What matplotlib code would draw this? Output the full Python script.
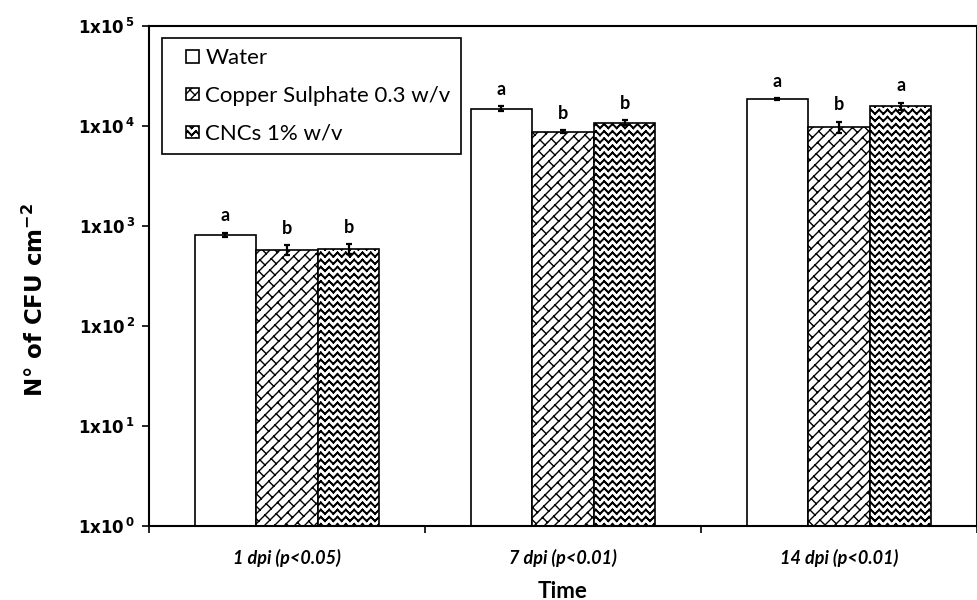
import numpy as np
import matplotlib
matplotlib.use('Agg')
import matplotlib.pyplot as plt
import matplotlib.hatch as mhatch
from matplotlib.path import Path
from matplotlib.patches import Rectangle
from matplotlib.container import BarContainer
from matplotlib.legend_handler import HandlerPatch, update_from_first_child
from matplotlib.ticker import NullLocator

# ---------------- data ----------------
categories = ['1 dpi (p<0.05)', '7 dpi (p<0.01)', '14 dpi (p<0.01)']
series_names = ['Water', 'Copper Sulphate 0.3 w/v', 'CNCs 1% w/v']
water = [811, 14900, 18500]
copper = [579, 8760, 9770]
cncs = [593, 10770, 15740]
water_err = [45, 900, 430]
copper_err = [63, 300, 1300]
cncs_err = [65, 600, 1350]
water_letters = ['a', 'a', 'a']
copper_letters = ['b', 'b', 'b']
cncs_letters = ['b', 'b', 'a']
ytick_exponents = [0, 1, 2, 3, 4, 5]


# ---------------- custom hatches (brick and zigzag) ----------------
def _brick_segments(n=10, m=4):
    segs = []
    for k in range(-n - 1, n + 2):
        c0 = k / n
        c1 = (k + 1) / n
        s0, s1 = -1.2, 3.2
        segs.append((((s0 + c0) / 2, (s0 - c0) / 2), ((s1 + c0) / 2, (s1 - c0) / 2)))
        off = (k % 2) / (2 * m)
        for j in range(-2 * m, 4 * m):
            s = j / m + off
            p0 = ((s + c0) / 2, (s - c0) / 2)
            p1 = ((s + c1) / 2, (s - c1) / 2)
            mx, my = (p0[0] + p1[0]) / 2, (p0[1] + p1[1]) / 2
            if -0.2 <= mx <= 1.2 and -0.2 <= my <= 1.2:
                segs.append((p0, p1))
    return segs


def _zigzag_segments(r=14, q=12, thick=(0.0, 0.008)):
    segs = []
    a = 1 / (2 * q)
    for k in range(-1, r + 2):
        for d in thick:
            y0 = k / r + d
            for i in range(-2, 2 * q + 2):
                x0 = i / (2 * q)
                x1 = (i + 1) / (2 * q)
                ya = y0 + (i % 2) * a
                yb = y0 + ((i + 1) % 2) * a
                segs.append(((x0, ya), (x1, yb)))
    return segs


class _SegHatch:
    key = None
    builder = None

    def __init__(self, hatch, density):
        if hatch and self.key in hatch:
            self.segs = np.array(type(self).builder(), float)
        else:
            self.segs = np.zeros((0, 2, 2))
        self.num_vertices = len(self.segs) * 2

    def set_vertices_and_codes(self, vertices, codes):
        vertices[0::2] = self.segs[:, 0]
        vertices[1::2] = self.segs[:, 1]
        codes[0::2] = Path.MOVETO
        codes[1::2] = Path.LINETO


class BrickHatch(_SegHatch):
    key = '/'
    builder = staticmethod(_brick_segments)


class ZigzagHatch(_SegHatch):
    key = '\\'
    builder = staticmethod(_zigzag_segments)


if hasattr(mhatch, '_hatch_types'):
    mhatch._hatch_types[:] = [BrickHatch, ZigzagHatch]

# ---------------- style ----------------
plt.rcParams['hatch.linewidth'] = 1.0
plt.rcParams['mathtext.fontset'] = 'custom'
plt.rcParams['mathtext.rm'] = 'DejaVu Sans'
plt.rcParams['mathtext.it'] = 'DejaVu Sans:italic'
plt.rcParams['mathtext.bf'] = 'DejaVu Sans:bold'
plt.rcParams['font.family'] = ['DejaVu Sans']

fig = plt.figure(figsize=(9.78, 6.0), dpi=100)
ax = fig.add_axes([0.1524, 0.1238, 0.8466, 0.8328])
ax.set_yscale('log')

x = np.arange(len(categories))
w = 0.223
specs = [
    (water, water_err, water_letters, '', series_names[0]),
    (copper, copper_err, copper_letters, '/', series_names[1]),
    (cncs, cncs_err, cncs_letters, '\\', series_names[2]),
]
for i, (vals, errs, letters, hatch, name) in enumerate(specs):
    pos = x + (i - 1) * w
    ax.bar(pos, vals, width=w, color='white', edgecolor='black', linewidth=1.2,
           hatch=hatch, label=name, zorder=2)
    ax.errorbar(pos, vals, yerr=errs, fmt='none', ecolor='black', elinewidth=1.6,
                capsize=2.5, capthick=1.6, zorder=3)
    for p, v, e, l in zip(pos, vals, errs, letters):
        ax.annotate(l, (p, v + e), xytext=(0, 6), textcoords='offset points',
                    ha='center', va='bottom', fontsize=13, fontweight='bold',
                    family='Lato')

ax.set_ylim(1, 1e5)
ax.set_xlim(-0.5, 2.5)

ax.set_yticks([10.0 ** k for k in ytick_exponents])
ax.set_yticklabels([r'$\mathbf{1x10}^{\,\mathbf{%d}}$' % k for k in ytick_exponents])
ax.yaxis.set_minor_locator(NullLocator())
ax.tick_params(axis='y', which='major', direction='out', length=5, width=1.2,
               pad=5, labelsize=12)

ax.set_xticks([-0.5, 0.5, 1.5, 2.5])
ax.set_xticklabels([])
ax.set_xticks(x, minor=True)
ax.set_xticklabels(categories, minor=True, fontstyle='italic', fontweight='bold',
                   family='Lato', fontsize=13)
ax.tick_params(axis='x', which='major', direction='out', length=5, width=1.2)
ax.tick_params(axis='x', which='minor', length=0, pad=17)

for sp in ax.spines.values():
    sp.set_linewidth(1.5)
    sp.set_color('black')

fig.text(35 / 978, 0.5, r'N° of CFU cm$^{\mathbf{-2}}$', rotation=90, ha='center',
         va='center', fontsize=16.5, fontweight='bold')
fig.text(563 / 978, 1 - 591 / 600, 'Time', ha='center', va='center', fontsize=16,
         fontweight='bold', family='Lato')


def _square_handle(legend, orig_handle, xdescent, ydescent, width, height, fontsize):
    s = 12.5 * 72 / 100
    return Rectangle((-xdescent + width - s, -ydescent + (height - s) / 2), s, s)


leg = ax.legend(loc='upper left', bbox_to_anchor=((162 - 149) / 828, 1 - (38 - 26) / 499.7),
                borderaxespad=0, frameon=True, fancybox=False, edgecolor='black',
                framealpha=1, prop={'family': 'Lato', 'size': 16},
                handlelength=1.2, handleheight=0.7, handletextpad=0.3,
                labelspacing=0.8, borderpad=0.45,
                handler_map={BarContainer: HandlerPatch(patch_func=_square_handle,
                                                        update_func=update_from_first_child)})
leg.get_frame().set_linewidth(1.2)

fig.savefig('out.png', dpi=100)
